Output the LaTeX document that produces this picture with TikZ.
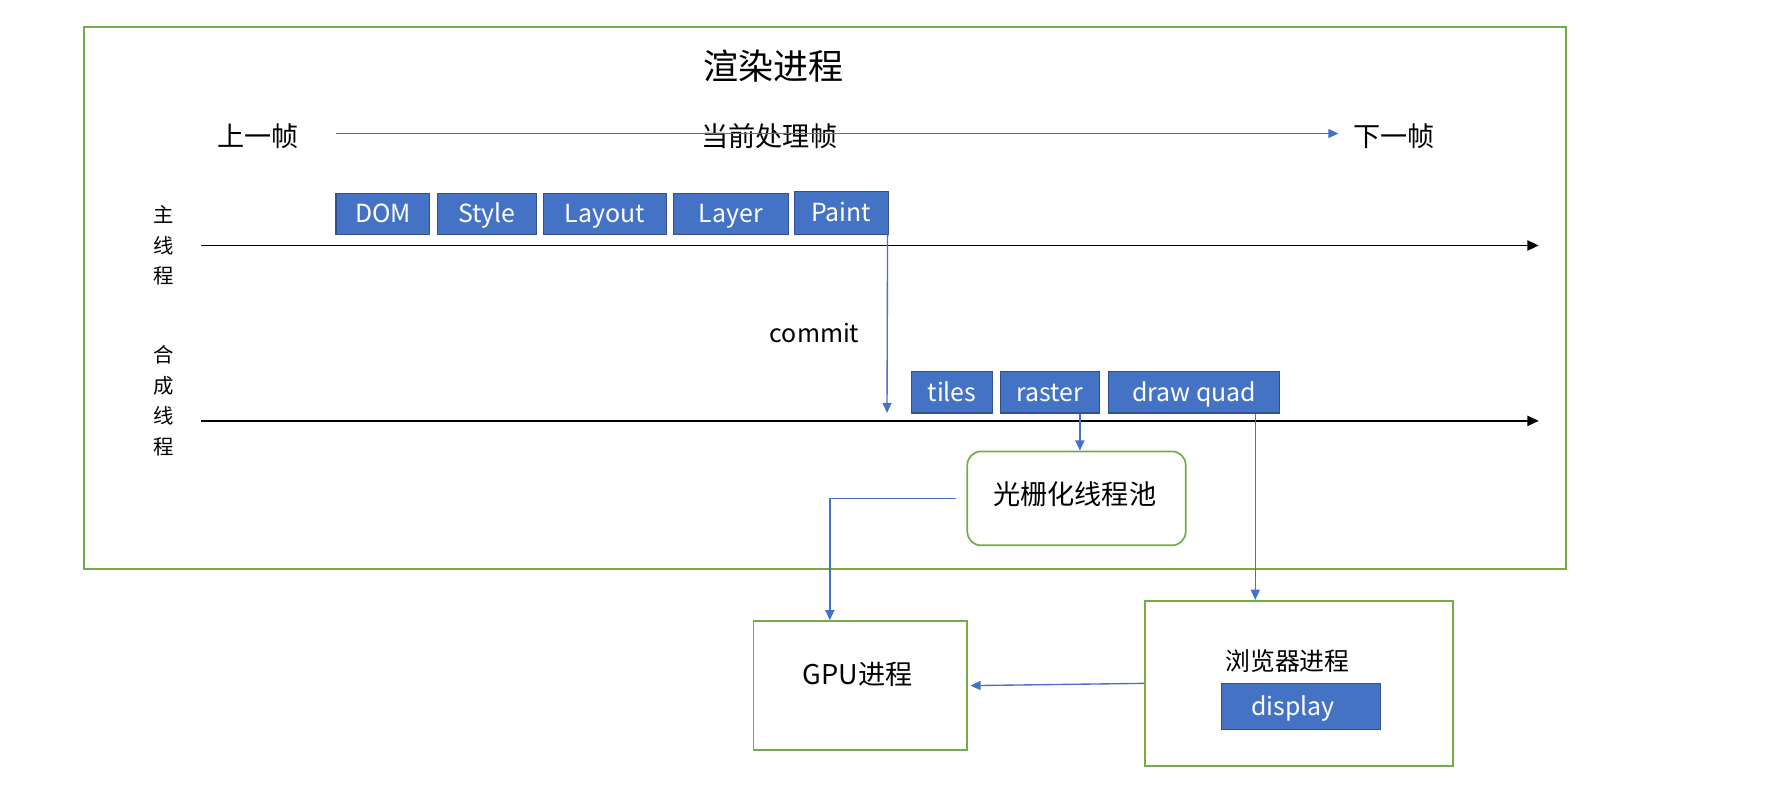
\documentclass[tikz,border=0pt]{standalone}
\usepackage{fontspec}
\setmainfont{Noto Sans CJK SC}
\usetikzlibrary{arrows.meta,calc}
\definecolor{oblue}{HTML}{4472C4}
\definecolor{dblue}{HTML}{2F528F}
\definecolor{ogreen}{HTML}{70AD47}
\tikzset{
  blk/.style={fill=oblue,draw=dblue,line width=1pt,text=white,inner sep=0pt,minimum height=36pt,font=\fontsize{22}{26}\selectfont,text height=21pt,text depth=5pt},
  gbox/.style={draw=ogreen,line width=1.5pt,inner sep=0pt},
  barrow/.style={draw=oblue,line width=1.2pt,-{Triangle[width=8pt,length=9pt]}},
  karrow/.style={draw=black,line width=1.6pt,-{Triangle[width=9pt,length=10pt]}},
  lbl/.style={inner sep=0pt,font=\fontsize{24}{28}\selectfont},
}
\begin{document}
\begin{tikzpicture}[x=1pt,y=-1pt]
\useasboundingbox (0,0) rectangle (1568,704);
% outer box
\node[gbox,minimum width=1310pt,minimum height=479pt] (outer) at (729,263.5) {};
\node[lbl,font=\fontsize{31}{36}\selectfont] (title) at (684,58) {渲染进程};
\node[lbl] (prev) at (228,120) {上一帧};
\node[lbl] (cur) at (680,120) {当前处理帧};
\node[lbl] (next) at (1232,120) {下一帧};
\draw[barrow] (297,118) coordinate (fa) -- (1183,118) coordinate (fb);
% thread labels
\node[inner sep=0pt,align=center,font=\fontsize{18}{27}\selectfont] (mainlbl) at (145,217) {主\\线\\程};
\node[inner sep=0pt,align=center,font=\fontsize{18}{27}\selectfont] (complbl) at (145,354) {合\\成\\线\\程};
\coordinate (m0) at (178,217);
\coordinate (m1) at (1360,217);
\coordinate (c0) at (178,372);
\coordinate (c1) at (1360,372);
\draw[karrow] (m0) -- (m1);
\draw[karrow] (c0) -- (c1);
% main thread blocks
\node[blk,minimum width=83pt] (dom) at (338.5,189) {DOM};
\node[blk,minimum width=87pt] (style) at (430.5,189) {Style};
\node[blk,minimum width=109pt] (layout) at (534.5,189) {Layout};
\node[blk,minimum width=102pt] (layer) at (646,189) {Layer};
\node[blk,minimum width=83pt,minimum height=38pt] (paint) at (743.5,188) {Paint};
% commit
\coordinate (cm) at (784,365);
\draw[barrow] ([xshift=-1pt]paint.south east) -- (cm);
\node[lbl,font=\fontsize{22}{26}\selectfont] (commit) at (720,294) {commit};
% compositor blocks
\node[blk,minimum width=71pt,minimum height=37pt] (tiles) at (841.5,346.5) {tiles};
\node[blk,minimum width=88pt,minimum height=37pt] (raster) at (928,346.5) {raster};
\node[blk,minimum width=151pt,minimum height=37pt] (dq) at (1055.5,346.5) {draw quad};
% raster pool
\node[gbox,rounded corners=12pt,minimum width=193pt,minimum height=83pt] (pool) at (951.5,440.5) {};
\node[lbl] (pooltxt) at (950,437) {光栅化线程池};
\draw[barrow] ([xshift=3pt]pool.north |- raster.south) -- ([xshift=3pt]pool.north);
% GPU
\node[gbox,minimum width=189pt,minimum height=114pt] (gpu) at (760.5,606) {};
\node[lbl] (gputxt) at (758,596) {GPU进程};
\draw[barrow] ([xshift=-9pt]pool.west) -| ([xshift=-27pt]gpu.north);
% browser
\node[gbox,minimum width=272pt,minimum height=146pt] (br) at (1148,604) {};
\node[lbl,font=\fontsize{22}{26}\selectfont] (brtxt) at (1138,584) {浏览器进程};
\node[blk,minimum width=140pt,minimum height=41pt,anchor=center] (disp) at (1150,624.5) {\hspace*{-14pt}display};
\draw[barrow] ([xshift=-22pt]dq.south east) -- ([xshift=-22pt]dq.south east |- br.north);
\draw[barrow] (br.west) -- ([xshift=2pt]gpu.east);
\end{tikzpicture}
\end{document}
